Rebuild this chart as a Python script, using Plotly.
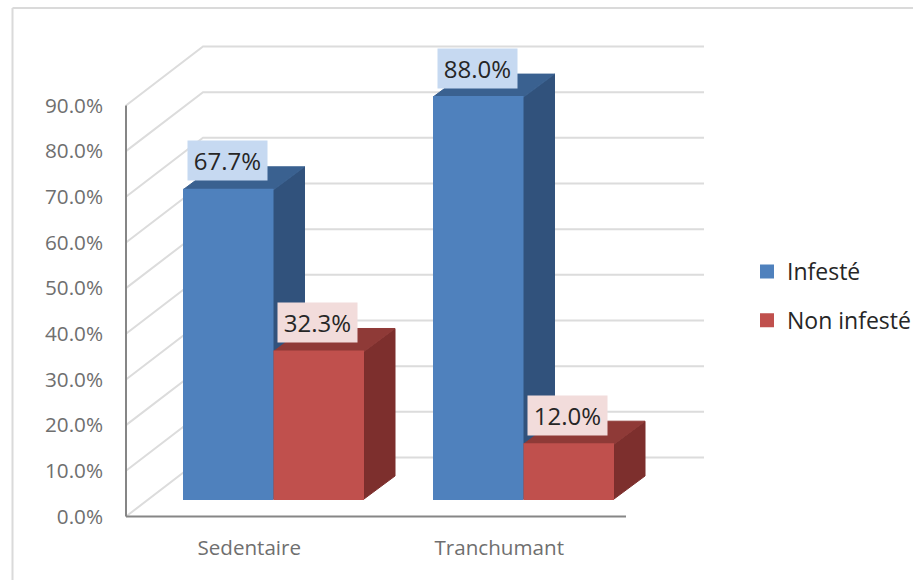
import plotly.graph_objects as go

categories = ["Sedentaire", "Tranchumant"]
infeste = [67.7, 88.0]
non_infeste = [32.3, 12.0]
y_ticks = [0, 10, 20, 30, 40, 50, 60, 70, 80, 90]

# styling / geometry
W, H = 913, 580
OX, OY = 126, 516.5          # pixel position of the axes' origin
L, R, T, B = 120, 704, 45, 520   # plot area (slightly larger so edge lines are not clipped)
PX_X = 250.0      # pixels per category
PX_Y = 4.567      # pixels per percentage point
X0 = -0.5
XMIN = X0 - (OX - L) / PX_X
X1 = X0 + (R - OX) / PX_X
YMIN = -(B - OY) / PX_Y
Y1 = (OY - T) / PX_Y
WALL_DX, WALL_DY = 77 / PX_X, 59 / PX_Y
BAR_BASE = (OY - 499) / PX_Y
BAR_DX, BAR_DY = 31 / PX_X, 23 / PX_Y
BAR_W = 0.362
OFFSETS = [-0.272, 0.09]
LABEL_FONT = "Open Sans, sans-serif"


def px(xp):
    return (xp - L) / (R - L)


def py(yp):
    return (B - yp) / (B - T)


shapes = []
GRID = dict(color="#dcdcdc", width=2)
for t in y_ticks:
    # side wall and back wall gridlines
    shapes.append(dict(type="path", xref="x", yref="y", layer="below", line=GRID,
                       path=f"M{X0},{t} L{X0 + WALL_DX},{t + WALL_DY} L{X1},{t + WALL_DY}"))


def faces(values, offset, top_color, side_color):
    for i, v in enumerate(values):
        xl = i + offset
        xr = xl + BAR_W
        yb = BAR_BASE
        yt = BAR_BASE + v
        shapes.append(dict(type="path", xref="x", yref="y", layer="below",
                           fillcolor=side_color, line=dict(color=side_color, width=1),
                           path=f"M{xr},{yb} L{xr + BAR_DX},{yb + BAR_DY} L{xr + BAR_DX},{yt + BAR_DY} L{xr},{yt} Z"))
        shapes.append(dict(type="path", xref="x", yref="y", layer="below",
                           fillcolor=top_color, line=dict(color=top_color, width=1),
                           path=f"M{xl},{yt} L{xl + BAR_DX},{yt + BAR_DY} L{xr + BAR_DX},{yt + BAR_DY} L{xr},{yt} Z"))


faces(infeste, OFFSETS[0], "#3A6190", "#31527C")
faces(non_infeste, OFFSETS[1], "#8F3A37", "#7D2F2D")

# axis lines
AXIS = dict(color="#868686", width=2)
shapes.append(dict(type="line", xref="x", yref="y", x0=X0, x1=X0, y0=0, y1=y_ticks[-1], line=AXIS))
shapes.append(dict(type="line", xref="x", yref="y", x0=X0, x1=X0 + 2, y0=0, y1=0, line=AXIS))

# outer chart frame
FRAME = dict(color="#dadada", width=2)
shapes.append(dict(type="line", xref="paper", yref="paper", x0=px(12.5), x1=px(913), y0=py(8), y1=py(8), line=FRAME))
shapes.append(dict(type="line", xref="paper", yref="paper", x0=px(12.5), x1=px(12.5), y0=py(8), y1=py(580), line=FRAME))

fig = go.Figure()
for name, vals, off, col in [("Infesté", infeste, OFFSETS[0], "#4F81BD"),
                             ("Non infesté", non_infeste, OFFSETS[1], "#C0504D")]:
    fig.add_trace(go.Bar(x=list(range(len(categories))), y=vals, base=BAR_BASE, name=name,
                         legendgroup=name, offset=off + 0.004, width=BAR_W - 0.008,
                         marker=dict(color=col, line=dict(color=col, width=2))))

annotations = []
for vals, off, bg in [(infeste, OFFSETS[0], "#C6D9F1"), (non_infeste, OFFSETS[1], "#F2DCDB")]:
    for i, v in enumerate(vals):
        annotations.append(dict(x=i + off + BAR_W / 2, y=BAR_BASE + v, xref="x", yref="y",
                                text=f"{v:.1f}%", showarrow=False, yshift=29, xshift=-1,
                                width=77, height=37, bgcolor=bg, align="center", valign="middle",
                                font=dict(family=LABEL_FONT, size=24, color="#262626")))

fig.update_layout(
    width=W, height=H, autosize=False,
    margin=dict(l=L, r=W - R, t=T, b=H - B, pad=0),
    paper_bgcolor="white", plot_bgcolor="white",
    barmode="overlay", showlegend=True,
    shapes=shapes, annotations=annotations,
    xaxis=dict(range=[XMIN, X1], tickmode="array",
               tickvals=[i - 0.007 for i in range(len(categories))],
               ticktext=categories, showgrid=False, zeroline=False, showline=False, ticks="",
               ticklabelstandoff=13, tickfont=dict(family=LABEL_FONT, size=20.6, color="#6f6f6f")),
    yaxis=dict(range=[YMIN, Y1], tickmode="array", tickvals=y_ticks,
               ticktext=[f"{t:.1f}%" for t in y_ticks], showgrid=False, zeroline=False,
               showline=False, ticks="", ticklabelstandoff=16,
               tickfont=dict(family=LABEL_FONT, size=20.7, color="#6f6f6f")),
    legend=dict(xref="container", yref="container", x=747 / W, y=1 - 250 / H,
                xanchor="left", yanchor="top", orientation="v",
                traceorder="grouped", tracegroupgap=16, itemclick=False,
                bgcolor="rgba(0,0,0,0)", font=dict(family=LABEL_FONT, size=23, color="#262626")),
)
fig.write_html("out.html", config=dict(responsive=False, displayModeBar=False),
               post_script="document.body.style.margin='0';document.body.style.overflow='hidden';")
